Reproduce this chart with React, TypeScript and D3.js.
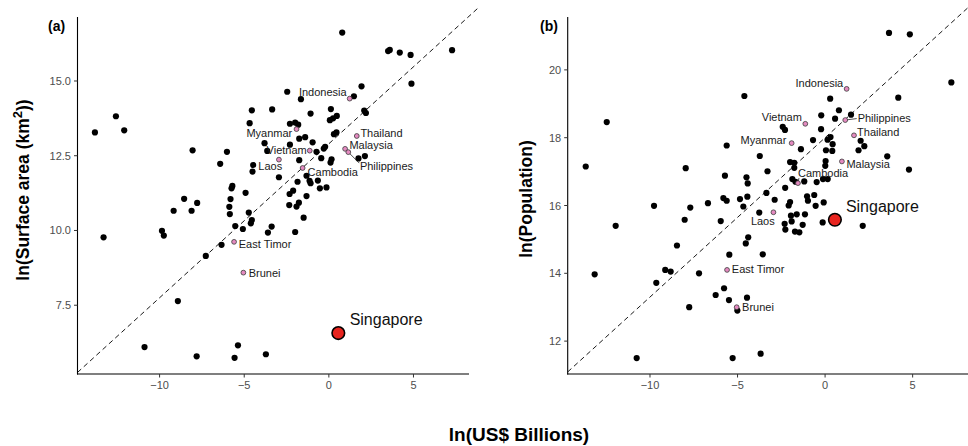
import React from "react";
import * as d3 from "d3";

// ---------- DATA ----------
// ASEAN members highlighted in pink (shared GDP values, ln US$ billions)
const aseanNames = ["Indonesia", "Myanmar", "Thailand", "Malaysia", "Philippines", "Vietnam", "Laos", "Cambodia", "East Timor", "Brunei"];
const aseanGdp = [1.23, -1.91, 1.65, 0.96, 1.15, -1.13, -2.95, -1.55, -5.6, -5.05];
const aseanArea = [14.41, 13.39, 13.16, 12.73, 12.62, 12.67, 12.37, 12.09, 9.62, 8.59];
const aseanPop = [19.44, 17.84, 18.07, 17.3, 18.52, 18.41, 15.8, 16.66, 14.1, 13.0];

const singaporeName = "Singapore";
const singaporeGdp = 0.56;
const singaporeArea = 6.57;
const singaporePop = 15.58;

// Other countries, panel (a): ln(GDP) vs ln(surface area)
const otherGdpA = [
  -13.82, -12.58, -12.09, -13.31, -9.86, -9.75, -8.92, -10.89, -7.81, -5.57, -5.37, -3.72, -7.27, -6.34,
  -5.53, -5.08, -4.55, -4.61, -3.6, -3.38, -1.99, -8.55, -9.17, -8.11, -7.78, -8.05, -6.02, -6.42, -5.7,
  -5.75, -5.81, -5.88, -5.85, -4.73, -4.92, -4.55, -3.35, -2.46, -1.65, -1.08, 0.12, 0.47, 0.25, 0.06,
  -4.68, -2.3, -1.99, -1.81, 0.45, 0.3, -1.75, -1.4, -3.8, -0.96, -2.3, -3.64, -0.73, -0.22, -0.3, -0.45,
  0.16, 0.1, -1.75, -4.47, -4.51, 1.75, 2.13, -2.95, -1.85, -1.14, -1.08, -0.65, -0.53, -0.14, -1.32,
  -2.11, -2.32, -1.32, -1.77, -1.91, -2.34, -1.49, 0.79, 3.6, 3.5, 4.19, 4.83, 7.28, 4.88, 1.93, 1.48,
  2.09, 2.19,
];
const otherAreaA = [
  13.28, 13.82, 13.35, 9.77, 9.99, 9.83, 7.64, 6.1, 5.79, 5.74, 6.16, 5.86, 9.15, 9.52,
  10.15, 10.05, 10.35, 10.24, 9.93, 10.13, 9.95, 11.06, 10.66, 10.66, 10.92, 12.68, 12.63, 12.23, 11.49,
  11.41, 11.05, 10.79, 10.55, 10.6, 11.26, 14.02, 14.05, 14.64, 14.39, 13.91, 14.06, 13.83, 13.75, 13.69,
  13.59, 13.57, 13.61, 13.54, 13.28, 13.22, 13.07, 13.12, 12.92, 12.95, 12.87, 12.66, 12.63, 12.8, 12.74, 12.42,
  12.38, 12.27, 12.35, 12.19, 11.97, 12.41, 12.49, 11.78, 11.63, 11.66, 11.58, 11.67, 11.41, 11.44, 11.83,
  11.33, 11.22, 11.15, 10.93, 10.8, 10.85, 10.43, 16.62, 16.04, 16.0, 15.95, 15.87, 16.03, 14.91, 14.82, 14.49,
  14.01, 13.93,
];

// Other countries, panel (b): ln(GDP) vs ln(population)
const otherGdpB = [
  -12.47, -13.67, -7.96, -5.62, -5.72, -9.77, -7.7, -6.69, -5.81, -5.62, -8.02, -5.96, -11.96, -13.16,
  -8.46, -9.64, -9.13, -8.82, -7.2, -7.76, -10.76, -6.25, -5.77, -5.49, -4.46, -5.47, -3.56, -5.01, -5.28,
  -3.68, -4.53, -4.39, -2.31, -2.27, -1.91, -1.72, -1.47, -1.28, -0.14, 2.15, -4.61, 0.29, -0.22, 0.57,
  0.79, 1.48, -2.42, -2.29, -0.23, -0.69, 0.14, 0.31, 0.43, 0.05, 0.41, -1.38, 1.91, 2.03, 2.24, -3.73,
  -2.0, -1.76, -1.76, 0.03, 0.01, -3.29, -4.49, -4.42, -1.87, -1.69, -1.19, -0.48, -0.12, 0.15, -2.28,
  -3.35, -4.86, -4.44, -4.67, -2.88, -1.03, -0.62, -0.98, -2.0, -2.08, -0.54, -0.08, -3.76, -1.62, -1.95,
  -1.15, 3.65, 4.84, 7.21, 4.18, 3.55, 4.79,
];
const otherPopB = [
  18.46, 17.15, 17.1, 17.77, 16.88, 15.99, 15.94, 16.07, 16.22, 16.14, 15.58, 15.54, 15.4, 13.97,
  14.82, 13.72, 14.1, 14.05, 14.0, 13.0, 11.5, 13.36, 13.56, 13.21, 13.28, 14.55, 14.56, 12.9, 11.5,
  11.63, 14.88, 15.06, 15.46, 15.29, 15.53, 15.23, 15.21, 15.43, 15.5, 15.4, 19.23, 19.15, 18.66, 18.56,
  18.81, 18.68, 18.32, 18.23, 18.25, 17.93, 17.94, 18.02, 17.81, 17.63, 17.61, 17.66, 17.63, 17.91, 17.75, 17.46,
  17.28, 17.26, 17.11, 17.31, 17.17, 17.01, 16.83, 16.65, 16.78, 16.7, 16.71, 16.69, 16.78, 16.78, 16.52,
  16.37, 16.19, 16.26, 15.97, 16.17, 16.27, 16.31, 16.14, 16.1, 16.0, 15.99, 16.09, 15.79, 15.74, 15.7,
  15.74, 21.09, 21.05, 19.63, 19.18, 17.45, 17.06,
];

// Axis ticks
const xTicks = [-10, -5, 0, 5];
const yTicksA = [7.5, 10, 12.5, 15];
const yTicksB = [12, 14, 16, 18, 20];

// Reference (dashed) lines: intercept, slope, x-range
const refA = { intercept: 12.9, slope: 0.515, from: -14.85, to: 8.8 };
const refB = { intercept: 18.0, slope: 0.47, from: -14.7, to: 8.55 };

// ---------- LAYOUT / STYLE ----------
const W = 968;
const H = 446;
const FONT = "'Liberation Sans', Arial, Helvetica, sans-serif";

type Lab = { dx: number; dy: number; anchor: "start" | "end"; leader?: [number, number] };

const labelsA: Record<string, Lab> = {
  Indonesia: { dx: -3, dy: -6.5, anchor: "end" },
  Myanmar: { dx: -4.3, dy: 3.7, anchor: "end" },
  Thailand: { dx: 3.6, dy: -3.3, anchor: "start" },
  Malaysia: { dx: 4.3, dy: -3.7, anchor: "start" },
  Philippines: { dx: 11.6, dy: 13.7, anchor: "start", leader: [11, 11] },
  Vietnam: { dx: -3, dy: -0.7, anchor: "end" },
  Laos: { dx: 3.3, dy: 6.3, anchor: "end" },
  Cambodia: { dx: 5, dy: 3.7, anchor: "start" },
  "East Timor": { dx: 4.7, dy: 2, anchor: "start" },
  Brunei: { dx: 5.3, dy: 0, anchor: "start" },
};
const labelsB: Record<string, Lab> = {
  Indonesia: { dx: -3.4, dy: -6.3, anchor: "end" },
  Vietnam: { dx: -3.4, dy: -6.7, anchor: "end" },
  Philippines: { dx: 12.4, dy: -1.9, anchor: "start", leader: [11.5, -1.5] },
  Thailand: { dx: 3.1, dy: -3.7, anchor: "start" },
  Myanmar: { dx: -5.3, dy: -3.3, anchor: "end" },
  Malaysia: { dx: 4.5, dy: 2.6, anchor: "start" },
  Cambodia: { dx: 0, dy: -10.3, anchor: "start", leader: [1, -5] },
  Laos: { dx: 1.3, dy: 8.7, anchor: "end" },
  "East Timor": { dx: 4.8, dy: -1, anchor: "start" },
  Brunei: { dx: 5.4, dy: -0.6, anchor: "start" },
};

type PanelCfg = {
  x0: number; x1: number; y0: number; y1: number;
  xDomain: [number, number]; yDomain: [number, number];
  yTicks: number[]; yFmt: (v: number) => string;
  otherX: number[]; otherY: number[];
  aseanY: number[]; singY: number;
  ref: { intercept: number; slope: number; from: number; to: number };
  labels: Record<string, Lab>;
  tag: string; tagX: number;
  sgLabel: [number, number];
};

const fmtMinus = (s: string) => s.replace("-", "\u2212");

function Panel({ cfg }: { cfg: PanelCfg }) {
  const x = d3.scaleLinear().domain(cfg.xDomain).range([cfg.x0, cfg.x1]);
  const y = d3.scaleLinear().domain(cfg.yDomain).range([cfg.y1, cfg.y0]);
  const line = d3
    .line<number>()
    .x((v) => x(v))
    .y((v) => y(cfg.ref.intercept + cfg.ref.slope * v));
  const sgx = x(singaporeGdp);
  const sgy = y(cfg.singY);
  return (
    <g>
      {/* reference line */}
      <path d={line([cfg.ref.from, cfg.ref.to]) || ""} fill="none" stroke="#000" strokeWidth={0.9} strokeDasharray="5,3.5" />
      {/* axes */}
      <line x1={cfg.x0} x2={cfg.x0} y1={cfg.y0} y2={cfg.y1 + 0.5} stroke="#000" strokeWidth={1.1} />
      <line x1={cfg.x0 - 0.5} x2={cfg.x1} y1={cfg.y1} y2={cfg.y1} stroke="#000" strokeWidth={1.1} />
      {xTicks.map((t) => (
        <g key={"xt" + t}>
          <line x1={x(t)} x2={x(t)} y1={cfg.y1} y2={cfg.y1 + 3.5} stroke="#333" strokeWidth={1} />
          <text x={x(t)} y={cfg.y1 + 15} textAnchor="middle" fontSize={11} fill="#4d4d4d" fontFamily={FONT}>
            {fmtMinus(String(t))}
          </text>
        </g>
      ))}
      {cfg.yTicks.map((t) => (
        <g key={"yt" + t}>
          <line x1={cfg.x0 - 3.5} x2={cfg.x0} y1={y(t)} y2={y(t)} stroke="#333" strokeWidth={1} />
          <text x={cfg.x0 - 6.5} y={y(t) + 4} textAnchor="end" fontSize={11} fill="#4d4d4d" fontFamily={FONT}>
            {cfg.yFmt(t)}
          </text>
        </g>
      ))}
      {/* other countries */}
      {cfg.otherX.map((v, i) => (
        <circle key={"o" + i} cx={x(v)} cy={y(cfg.otherY[i])} r={3.1} fill="#000" />
      ))}
      {/* label leaders */}
      {aseanNames.map((n, i) => {
        const l = cfg.labels[n];
        if (!l.leader) return null;
        const px = x(aseanGdp[i]);
        const py = y(cfg.aseanY[i]);
        return <line key={"ld" + n} x1={px} y1={py} x2={px + l.leader[0]} y2={py + l.leader[1]} stroke="#222" strokeWidth={0.8} />;
      })}
      {/* ASEAN */}
      {aseanNames.map((n, i) => (
        <circle key={"a" + n} cx={x(aseanGdp[i])} cy={y(cfg.aseanY[i])} r={2.4} fill="#e48ac0" stroke="#3a3a3a" strokeWidth={0.8} />
      ))}
      {aseanNames.map((n, i) => {
        const l = cfg.labels[n];
        return (
          <text key={"al" + n} x={x(aseanGdp[i]) + l.dx} y={y(cfg.aseanY[i]) + l.dy + 4} textAnchor={l.anchor} fontSize={11} fill="#1a1a1a" fontFamily={FONT}>
            {n}
          </text>
        );
      })}
      {/* Singapore */}
      <circle cx={sgx} cy={sgy} r={6.3} fill="#e8241f" stroke="#000" strokeWidth={1.6} />
      <text x={sgx + cfg.sgLabel[0]} y={sgy + cfg.sgLabel[1] + 5.8} fontSize={16} fill="#111" fontFamily={FONT}>
        {singaporeName}
      </text>
      {/* panel tag */}
      <text x={cfg.tagX} y={31} fontSize={14} fontWeight="bold" fill="#000" fontFamily={FONT}>
        {cfg.tag}
      </text>
    </g>
  );
}

export default function App() {
  const cfgA: PanelCfg = {
    x0: 77.5, x1: 469, y0: 17, y1: 374,
    xDomain: [-14.85, 8.28], yDomain: [5.2, 17.14],
    yTicks: yTicksA, yFmt: (v) => d3.format(".1f")(v),
    otherX: otherGdpA, otherY: otherAreaA,
    aseanY: aseanArea, singY: singaporeArea,
    ref: refA, labels: labelsA, tag: "(a)", tagX: 48,
    sgLabel: [11.3, -13.7],
  };
  const cfgB: PanelCfg = {
    x0: 567.7, x1: 974.8, y0: 17, y1: 374,
    xDomain: [-14.7, 8.55], yDomain: [11.03, 21.56],
    yTicks: yTicksB, yFmt: (v) => String(v),
    otherX: otherGdpB, otherY: otherPopB,
    aseanY: aseanPop, singY: singaporePop,
    ref: refB, labels: labelsB, tag: "(b)", tagX: 540,
    sgLabel: [11, -14],
  };
  return (
    <>
      <style>{`html,body{margin:0;padding:0;background:#fff;overflow:hidden}`}</style>
      <svg width={W} height={H} viewBox={`0 0 ${W} ${H}`} style={{ display: "block" }}>
        <rect x={0} y={0} width={W} height={H} fill="#fff" />
        <Panel cfg={cfgA} />
        <Panel cfg={cfgB} />
        {/* axis titles */}
        <text transform="translate(28.5,190) rotate(-90)" textAnchor="middle" fontSize={17.5} fontWeight="bold" fill="#000" fontFamily={FONT}>
          <tspan>ln(Surface area (km</tspan>
          <tspan dy={-7} fontSize={13}>2</tspan>
          <tspan dy={7}>))</tspan>
        </text>
        <text transform="translate(531.5,199) rotate(-90)" textAnchor="middle" fontSize={17.5} fontWeight="bold" fill="#000" fontFamily={FONT}>
          ln(Population)
        </text>
        <text x={519} y={441} textAnchor="middle" fontSize={19} fontWeight="bold" fill="#000" fontFamily={FONT}>
          ln(US$ Billions)
        </text>
      </svg>
    </>
  );
}
